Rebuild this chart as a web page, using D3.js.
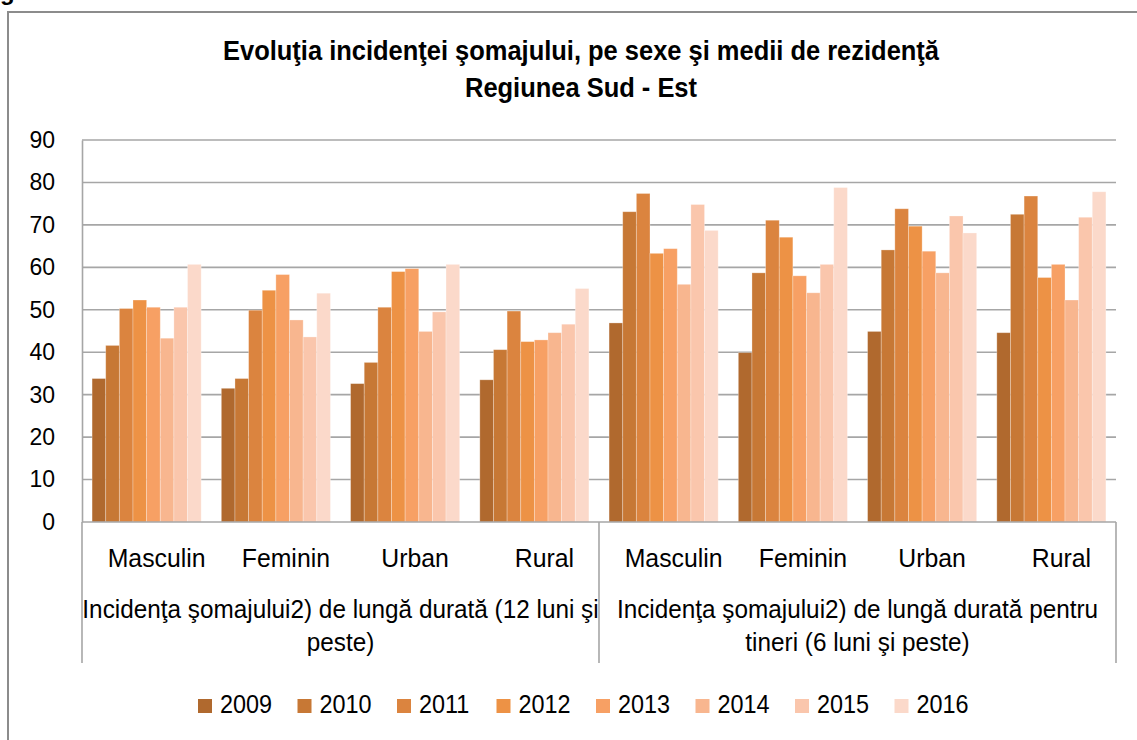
<!DOCTYPE html>
<html>
<head>
<meta charset="utf-8">
<script src="https://cdn.jsdelivr.net/npm/d3@7"></script>
<style>
  html, body { margin: 0; padding: 0; background: #fff; }
  svg { display: block; font-family: "Liberation Sans", Arial, sans-serif; }
</style>
</head>
<body>
<svg id="chart" width="1137" height="740"></svg>
<script>
// Long-term unemployment incidence, Regiunea Sud - Est
const years = ["2009", "2010", "2011", "2012", "2013", "2014", "2015", "2016"];
const subCategories = ["Masculin", "Feminin", "Urban", "Rural", "Masculin", "Feminin", "Urban", "Rural"];
const groupLabels = [
  ["Incidenţa şomajului2) de lungă durată (12 luni şi", "peste)"],
  ["Incidenţa şomajului2) de lungă durată pentru", "tineri (6 luni şi peste)"]
];
const yTicks = [0, 10, 20, 30, 40, 50, 60, 70, 80, 90];

const v2009 = [33.8, 31.5, 32.6, 33.5, 46.9, 39.9, 44.9, 44.6];
const v2010 = [41.6, 33.8, 37.6, 40.6, 73.1, 58.7, 64.1, 72.5];
const v2011 = [50.3, 49.9, 50.6, 49.7, 77.4, 71.1, 73.8, 76.8];
const v2012 = [52.3, 54.6, 59.0, 42.5, 63.3, 67.1, 69.7, 57.6];
const v2013 = [50.6, 58.3, 59.7, 42.9, 64.4, 58.0, 63.8, 60.7];
const v2014 = [43.3, 47.6, 44.9, 44.6, 56.0, 54.0, 58.7, 52.3];
const v2015 = [50.6, 43.6, 49.5, 46.6, 74.8, 60.7, 72.1, 71.8];
const v2016 = [60.7, 53.9, 60.7, 55.0, 68.7, 78.8, 68.1, 77.8];

const seriesValues = [v2009, v2010, v2011, v2012, v2013, v2014, v2015, v2016];
const colors = ["#B0692E", "#C77835", "#DB843F", "#ED9245", "#F7A064", "#F8B68F", "#FAC6AC", "#FBD9CA"];

const svg = d3.select("#chart");
const plot = { left: 82, right: 1116, top: 140, bottom: 522 };

// outer chart frame
svg.append("rect")
  .attr("x", 8).attr("y", 12)
  .attr("width", 1150).attr("height", 760)
  .attr("fill", "#fff").attr("stroke", "#8c8c8c").attr("stroke-width", 2);

// fragment of the caption above the frame
svg.append("text").attr("x", 0).attr("y", 0)
  .attr("font-size", 24).attr("font-weight", "bold").text("g");

// text helper with horizontal condensing
function label(parent, x, y, str, opts) {
  const o = Object.assign({ size: 24, sx: 0.9, anchor: "middle", weight: "normal" }, opts || {});
  const g = parent.append("g").attr("transform", `translate(${x},${y}) scale(${o.sx},1)`);
  g.append("text")
    .attr("text-anchor", o.anchor)
    .attr("font-size", o.size)
    .attr("font-weight", o.weight)
    .attr("fill", "#000")
    .text(str);
  return g;
}

// title
label(svg, 581, 60, "Evoluţia incidenţei şomajului, pe sexe şi medii de rezidenţă", { size: 28, sx: 0.91, weight: "bold" });
label(svg, 581, 97, "Regiunea Sud - Est", { size: 28, sx: 0.91, weight: "bold" });

// scales
const x0 = d3.scaleBand()
  .domain(d3.range(subCategories.length))
  .range([plot.left, plot.right])
  .paddingInner(0.156)
  .paddingOuter(0.078);

const x1 = d3.scaleBand()
  .domain(years)
  .range([0, x0.bandwidth()]);

const y = d3.scaleLinear().domain([0, 90]).range([plot.bottom, plot.top]);

// gridlines
svg.append("g")
  .selectAll("line")
  .data(yTicks.filter(t => t > 0))
  .join("line")
  .attr("x1", plot.left).attr("x2", plot.right)
  .attr("y1", d => y(d)).attr("y2", d => y(d))
  .attr("stroke", "#a6a6a6").attr("stroke-width", 1.6);

// y axis
const yAxis = svg.append("g")
  .attr("transform", `translate(${plot.left},0)`)
  .call(d3.axisLeft(y).tickValues(yTicks).tickSize(0).tickPadding(27).tickFormat(d3.format("d")));
yAxis.select(".domain").attr("stroke", "#a6a6a6").attr("stroke-width", 1.6);
yAxis.selectAll("text")
  .attr("font-size", 23)
  .attr("font-family", "'Liberation Sans', Arial, sans-serif")
  .attr("fill", "#000");

// bars
const barGroups = svg.append("g")
  .selectAll("g")
  .data(subCategories.map((c, i) => i))
  .join("g")
  .attr("transform", i => `translate(${x0(i)},0)`);

barGroups.selectAll("rect")
  .data(i => years.map((yr, k) => ({ year: yr, k, value: seriesValues[k][i] })))
  .join("rect")
  .attr("x", d => x1(d.year))
  .attr("width", x1.bandwidth())
  .attr("y", d => y(d.value))
  .attr("height", d => y(0) - y(d.value))
  .attr("fill", d => colors[d.k])
  .attr("stroke", "rgba(255,255,255,0.35)")
  .attr("stroke-width", 0.8);

// category axis: baseline and group separators
const axisColor = "#a6a6a6";
svg.append("line")
  .attr("x1", plot.left).attr("x2", plot.right)
  .attr("y1", y(0)).attr("y2", y(0))
  .attr("stroke", axisColor).attr("stroke-width", 1.6);

const groupEdges = [0, 4, 8].map(i => plot.left + x0.step() * i);
svg.append("g")
  .selectAll("line")
  .data(groupEdges)
  .join("line")
  .attr("x1", d => d).attr("x2", d => d)
  .attr("y1", y(0)).attr("y2", 663)
  .attr("stroke", axisColor).attr("stroke-width", 1.6);

// inner category labels
subCategories.forEach((c, i) => {
  label(svg, x0(i) + x0.bandwidth() / 2 + 10, 567, c, { size: 26.5, sx: 0.936 });
});

// outer group labels
groupLabels.forEach((lines, gi) => {
  const cx = (groupEdges[gi] + groupEdges[gi + 1]) / 2;
  lines.forEach((ln, li) => {
    label(svg, cx, 618 + li * 33, ln, { size: 26.5, sx: 0.918 });
  });
});

// legend
const legend = svg.append("g").attr("transform", "translate(198,0)");
years.forEach((yr, k) => {
  const lx = k * 99.5;
  legend.append("rect")
    .attr("x", lx).attr("y", 699)
    .attr("width", 14).attr("height", 14)
    .attr("fill", colors[k]);
  label(legend, lx + 22, 713, yr, { size: 26, sx: 0.9, anchor: "start" });
});
</script>
</body>
</html>
